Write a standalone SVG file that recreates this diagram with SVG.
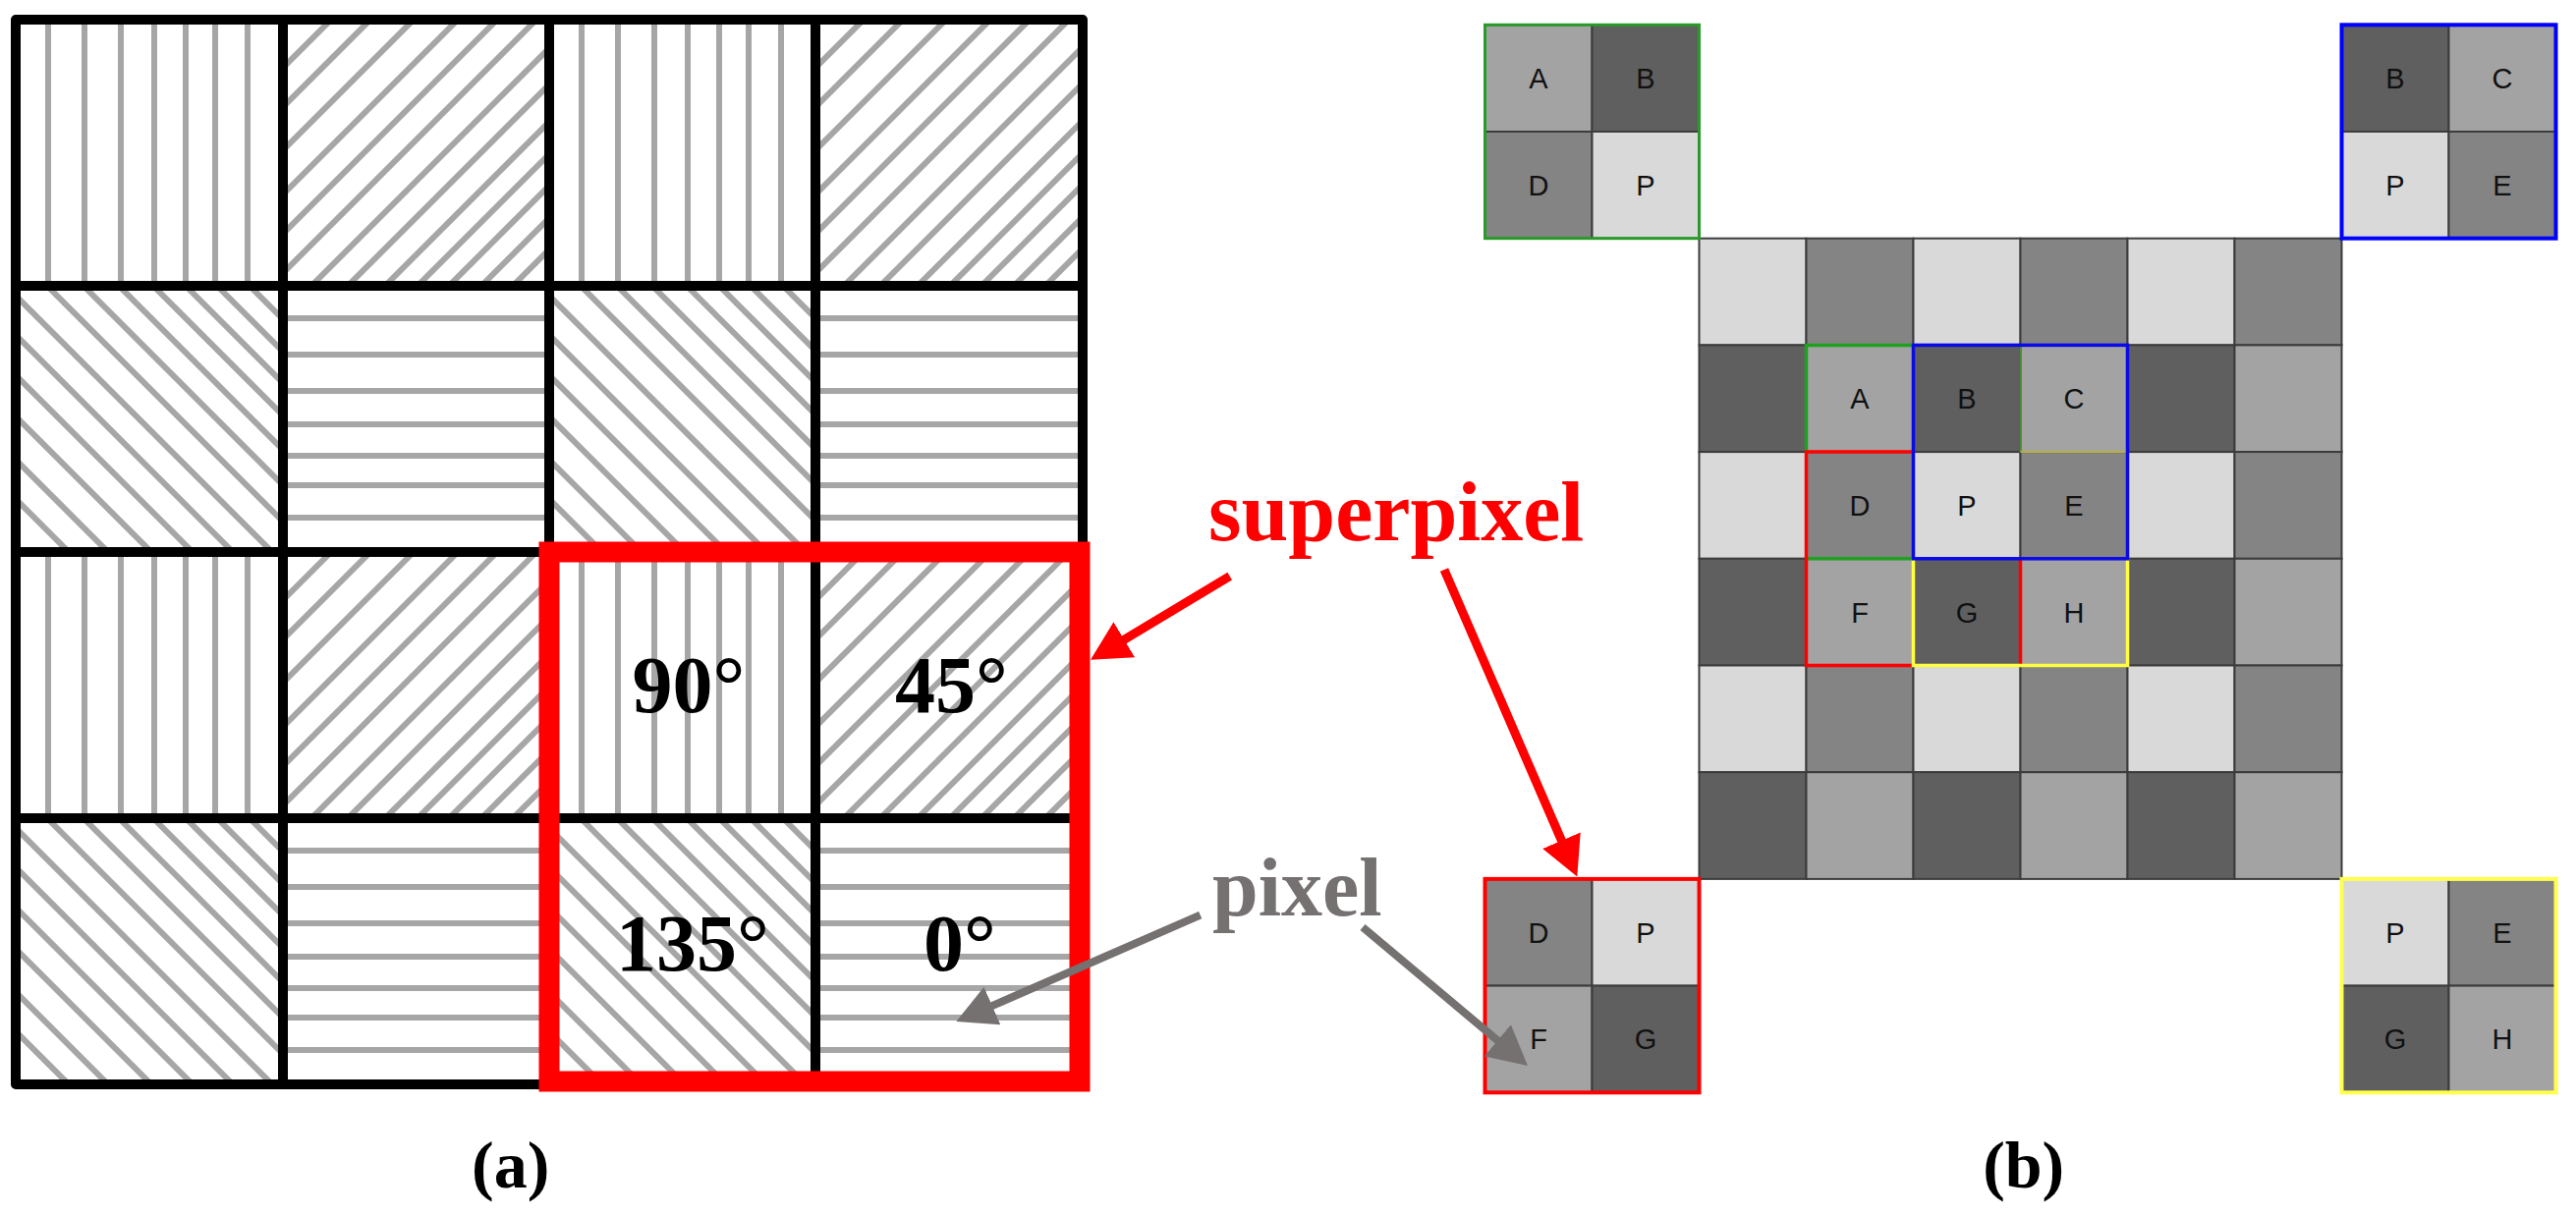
<svg xmlns="http://www.w3.org/2000/svg" width="2622" height="1237" viewBox="0 0 2622 1237">
<style>
.grid{fill:none;stroke:#000;stroke-width:10}
.deg{font-family:"Liberation Serif","Times New Roman",serif;font-weight:bold;font-size:82px;fill:#000;text-anchor:middle}
.cap{font-family:"Liberation Serif","Times New Roman",serif;font-weight:bold;font-size:68px;fill:#000;text-anchor:middle}
.lbl{font-family:"Liberation Sans",Arial,sans-serif;font-size:29px;fill:#111;text-anchor:middle}
.c{stroke:#3c3c3c;stroke-width:2}
.L{fill:#d9d9d9}.M{fill:#848484}.D{fill:#5f5f5f}.A{fill:#a3a3a3}
.o{fill:none;stroke-width:3.5}
</style>
<defs>
<symbol id="p90" viewBox="0 0 272 272">
<g stroke="#a6a6a6" stroke-width="6">
<line x1="33" y1="-5" x2="33" y2="277"/><line x1="70" y1="-5" x2="70" y2="277"/><line x1="107" y1="-5" x2="107" y2="277"/><line x1="141" y1="-5" x2="141" y2="277"/><line x1="173" y1="-5" x2="173" y2="277"/><line x1="203" y1="-5" x2="203" y2="277"/><line x1="236" y1="-5" x2="236" y2="277"/>
</g>
</symbol>
<symbol id="p0" viewBox="0 0 272 272">
<g stroke="#a6a6a6" stroke-width="6">
<line y1="33" x1="-5" y2="33" x2="277"/><line y1="70" x1="-5" y2="70" x2="277"/><line y1="107" x1="-5" y2="107" x2="277"/><line y1="141" x1="-5" y2="141" x2="277"/><line y1="173" x1="-5" y2="173" x2="277"/><line y1="203" x1="-5" y2="203" x2="277"/><line y1="236" x1="-5" y2="236" x2="277"/>
</g>
</symbol>
<symbol id="p45" viewBox="0 0 272 272">
<g stroke="#a6a6a6" stroke-width="6">
<line x1="-10" y1="59" x2="59" y2="-10"/>
<line x1="-10" y1="99" x2="99" y2="-10"/>
<line x1="-10" y1="143" x2="143" y2="-10"/>
<line x1="-10" y1="188" x2="188" y2="-10"/>
<line x1="-10" y1="228" x2="228" y2="-10"/>
<line x1="-10" y1="268" x2="268" y2="-10"/>
<line x1="-10" y1="310" x2="310" y2="-10"/>
<line x1="-10" y1="347" x2="347" y2="-10"/>
<line x1="-10" y1="385" x2="385" y2="-10"/>
<line x1="-10" y1="418" x2="418" y2="-10"/>
<line x1="-10" y1="450" x2="450" y2="-10"/>
<line x1="-10" y1="483" x2="483" y2="-10"/>
<line x1="-10" y1="515" x2="515" y2="-10"/>
</g>
</symbol>
<symbol id="p135" viewBox="0 0 272 272">
<g stroke="#a6a6a6" stroke-width="6">
<line x1="-10" y1="-248" x2="282" y2="44"/>
<line x1="-10" y1="-215" x2="282" y2="77"/>
<line x1="-10" y1="-183" x2="282" y2="109"/>
<line x1="-10" y1="-150" x2="282" y2="142"/>
<line x1="-10" y1="-115" x2="282" y2="177"/>
<line x1="-10" y1="-79" x2="282" y2="213"/>
<line x1="-10" y1="-42" x2="282" y2="250"/>
<line x1="-10" y1="0" x2="282" y2="292"/>
<line x1="-10" y1="40" x2="282" y2="332"/>
<line x1="-10" y1="81" x2="282" y2="373"/>
<line x1="-10" y1="123" x2="282" y2="415"/>
<line x1="-10" y1="167" x2="282" y2="459"/>
<line x1="-10" y1="207" x2="282" y2="499"/>
</g>
</symbol>
<marker id="arR" viewBox="0 0 40 42" refX="10" refY="21" markerWidth="40" markerHeight="42" markerUnits="userSpaceOnUse" orient="auto"><path d="M0,0 L40,21 L0,42 Z" fill="#ff0000"/></marker>
<marker id="arG" viewBox="0 0 40 42" refX="10" refY="21" markerWidth="40" markerHeight="42" markerUnits="userSpaceOnUse" orient="auto"><path d="M0,0 L40,21 L0,42 Z" fill="#767171"/></marker>
</defs>
<rect width="2622" height="1237" fill="#fff"/>

<g id="panel-a">
<g id="a-cells">
<use href="#p90" x="16" y="20" width="272" height="272"/>
<use href="#p45" x="288" y="20" width="272" height="272"/>
<use href="#p90" x="559" y="20" width="272" height="272"/>
<use href="#p45" x="830" y="20" width="272" height="272"/>
<use href="#p135" x="16" y="291" width="272" height="272"/>
<use href="#p0" x="288" y="291" width="272" height="272"/>
<use href="#p135" x="559" y="291" width="272" height="272"/>
<use href="#p0" x="830" y="291" width="272" height="272"/>
<use href="#p90" x="16" y="562" width="272" height="272"/>
<use href="#p45" x="288" y="562" width="272" height="272"/>
<use href="#p90" x="559" y="562" width="272" height="272"/>
<use href="#p45" x="830" y="562" width="272" height="272"/>
<use href="#p135" x="16" y="833" width="272" height="272"/>
<use href="#p0" x="288" y="833" width="272" height="272"/>
<use href="#p135" x="559" y="833" width="272" height="272"/>
<use href="#p0" x="830" y="833" width="272" height="272"/>
</g>
<g id="a-grid">
<rect class="grid" x="16" y="20" width="1086" height="1084" stroke-linejoin="round"/>
<path class="grid" d="M288,20V1104M559,20V1104M830,20V1104M16,291H1102M16,562H1102M16,833H1102"/>
</g>
<g id="superpixel-frame">
<rect x="559" y="562" width="540" height="539" fill="none" stroke="#ff0000" stroke-width="21"/>
</g>
<g id="a-labels">
<text class="deg" x="701" y="725">90°</text>
<text class="deg" x="968.5" y="725">45°</text>
<text class="deg" x="705" y="988">135°</text>
<text class="deg" x="977" y="988">0°</text>
</g>
<text id="cap-a" class="cap" x="519.7" y="1209">(a)</text>
</g>

<g id="panel-b">
<g id="main-grid" class="c">
<rect class="L" x="1729.5" y="242.7" width="109" height="108.7"/><rect class="M" x="1838.5" y="242.7" width="109" height="108.7"/><rect class="L" x="1947.5" y="242.7" width="109" height="108.7"/><rect class="M" x="2056.5" y="242.7" width="109" height="108.7"/><rect class="L" x="2165.5" y="242.7" width="109" height="108.7"/><rect class="M" x="2274.5" y="242.7" width="109" height="108.7"/>
<rect class="D" x="1729.5" y="351.4" width="109" height="108.7"/><rect class="A" x="1838.5" y="351.4" width="109" height="108.7"/><rect class="D" x="1947.5" y="351.4" width="109" height="108.7"/><rect class="A" x="2056.5" y="351.4" width="109" height="108.7"/><rect class="D" x="2165.5" y="351.4" width="109" height="108.7"/><rect class="A" x="2274.5" y="351.4" width="109" height="108.7"/>
<rect class="L" x="1729.5" y="460.1" width="109" height="108.7"/><rect class="M" x="1838.5" y="460.1" width="109" height="108.7"/><rect class="L" x="1947.5" y="460.1" width="109" height="108.7"/><rect class="M" x="2056.5" y="460.1" width="109" height="108.7"/><rect class="L" x="2165.5" y="460.1" width="109" height="108.7"/><rect class="M" x="2274.5" y="460.1" width="109" height="108.7"/>
<rect class="D" x="1729.5" y="568.8" width="109" height="108.7"/><rect class="A" x="1838.5" y="568.8" width="109" height="108.7"/><rect class="D" x="1947.5" y="568.8" width="109" height="108.7"/><rect class="A" x="2056.5" y="568.8" width="109" height="108.7"/><rect class="D" x="2165.5" y="568.8" width="109" height="108.7"/><rect class="A" x="2274.5" y="568.8" width="109" height="108.7"/>
<rect class="L" x="1729.5" y="677.5" width="109" height="108.7"/><rect class="M" x="1838.5" y="677.5" width="109" height="108.7"/><rect class="L" x="1947.5" y="677.5" width="109" height="108.7"/><rect class="M" x="2056.5" y="677.5" width="109" height="108.7"/><rect class="L" x="2165.5" y="677.5" width="109" height="108.7"/><rect class="M" x="2274.5" y="677.5" width="109" height="108.7"/>
<rect class="D" x="1729.5" y="786.2" width="109" height="108.7"/><rect class="A" x="1838.5" y="786.2" width="109" height="108.7"/><rect class="D" x="1947.5" y="786.2" width="109" height="108.7"/><rect class="A" x="2056.5" y="786.2" width="109" height="108.7"/><rect class="D" x="2165.5" y="786.2" width="109" height="108.7"/><rect class="A" x="2274.5" y="786.2" width="109" height="108.7"/>
</g>
<g id="main-outlines">
<path class="o" stroke="#1fa01f" d="M1838.5,460.1V351.4H1947.5M1838.5,568.8H1947.5"/>
<path fill="none" stroke="#4f8f3a" stroke-width="2" d="M2056.5,351.4V460.1"/>
<path class="o" stroke="#ff0000" d="M1947.5,460.1H1838.5V677.5H1947.5M2056.5,568.8V677.5"/>
<path fill="none" stroke="#b8b040" stroke-width="2" d="M2056.5,460.1H2165.5"/>
<path class="o" stroke="#ffff40" d="M1947.5,568.8V677.5H2165.5V568.8"/>
<rect class="o" stroke="#0a0ae6" x="1947.5" y="351.4" width="218" height="217.4"/>
</g>
<g id="main-labels" class="lbl">
<text x="1893" y="416.2">A</text><text x="2002" y="416.2">B</text><text x="2111" y="416.2">C</text>
<text x="1893" y="524.9">D</text><text x="2002" y="524.9">P</text><text x="2111" y="524.9">E</text>
<text x="1893" y="633.6">F</text><text x="2002" y="633.6">G</text><text x="2111" y="633.6">H</text>
</g>

<g id="sq-top-left">
<g class="c">
<rect class="A" x="1511.5" y="25.3" width="109" height="108.7"/><rect class="D" x="1620.5" y="25.3" width="109" height="108.7"/>
<rect class="M" x="1511.5" y="134" width="109" height="108.7"/><rect class="L" x="1620.5" y="134" width="109" height="108.7"/>
</g>
<rect x="1511.5" y="25.3" width="218" height="217.4" fill="none" stroke="#2a9a2a" stroke-width="3"/>
<g class="lbl"><text x="1566" y="90">A</text><text x="1675" y="90">B</text><text x="1566" y="198.7">D</text><text x="1675" y="198.7">P</text></g>
</g>
<g id="sq-top-right">
<g class="c">
<rect class="D" x="2383.5" y="25.3" width="109" height="108.7"/><rect class="A" x="2492.5" y="25.3" width="109" height="108.7"/>
<rect class="L" x="2383.5" y="134" width="109" height="108.7"/><rect class="M" x="2492.5" y="134" width="109" height="108.7"/>
</g>
<rect x="2383.5" y="25.3" width="218" height="217.4" fill="none" stroke="#0000ff" stroke-width="4"/>
<g class="lbl"><text x="2438" y="90">B</text><text x="2547" y="90">C</text><text x="2438" y="198.7">P</text><text x="2547" y="198.7">E</text></g>
</g>
<g id="sq-bottom-left">
<g class="c">
<rect class="M" x="1511.5" y="894.9" width="109" height="108.7"/><rect class="L" x="1620.5" y="894.9" width="109" height="108.7"/>
<rect class="A" x="1511.5" y="1003.6" width="109" height="108.7"/><rect class="D" x="1620.5" y="1003.6" width="109" height="108.7"/>
</g>
<rect x="1511.5" y="894.9" width="218" height="217.4" fill="none" stroke="#ff0000" stroke-width="4"/>
<g class="lbl"><text x="1566" y="959.6">D</text><text x="1675" y="959.6">P</text><text x="1566" y="1068.3">F</text><text x="1675" y="1068.3">G</text></g>
</g>
<g id="sq-bottom-right">
<g class="c">
<rect class="L" x="2383.5" y="894.9" width="109" height="108.7"/><rect class="M" x="2492.5" y="894.9" width="109" height="108.7"/>
<rect class="D" x="2383.5" y="1003.6" width="109" height="108.7"/><rect class="A" x="2492.5" y="1003.6" width="109" height="108.7"/>
</g>
<rect x="2383.5" y="894.9" width="218" height="217.4" fill="none" stroke="#ffff4d" stroke-width="4"/>
<g class="lbl"><text x="2438" y="959.6">P</text><text x="2547" y="959.6">E</text><text x="2438" y="1068.3">G</text><text x="2547" y="1068.3">H</text></g>
</g>
<text id="cap-b" class="cap" x="2059.7" y="1209">(b)</text>
</g>

<g id="callouts">
<text id="lbl-superpixel" x="1230" y="550" font-family="Liberation Serif, Times New Roman, serif" font-weight="bold" font-size="86" fill="#ff0000">superpixel</text>
<text id="lbl-pixel" x="1234" y="932" font-family="Liberation Serif, Times New Roman, serif" font-weight="bold" font-size="84" fill="#767171">pixel</text>
</g>

<g id="connectors">
<line x1="1251.7" y1="586.7" x2="1135.7" y2="656.3" stroke="#ff0000" stroke-width="9" marker-end="url(#arR)"/>
<line x1="1470" y1="580" x2="1593.4" y2="864.9" stroke="#ff0000" stroke-width="9" marker-end="url(#arR)"/>
<line x1="1221.7" y1="931.7" x2="1000.8" y2="1028" stroke="#767171" stroke-width="8" marker-end="url(#arG)"/>
<line x1="1387" y1="944" x2="1532" y2="1065.7" stroke="#767171" stroke-width="8" marker-end="url(#arG)"/>
</g>
</svg>
